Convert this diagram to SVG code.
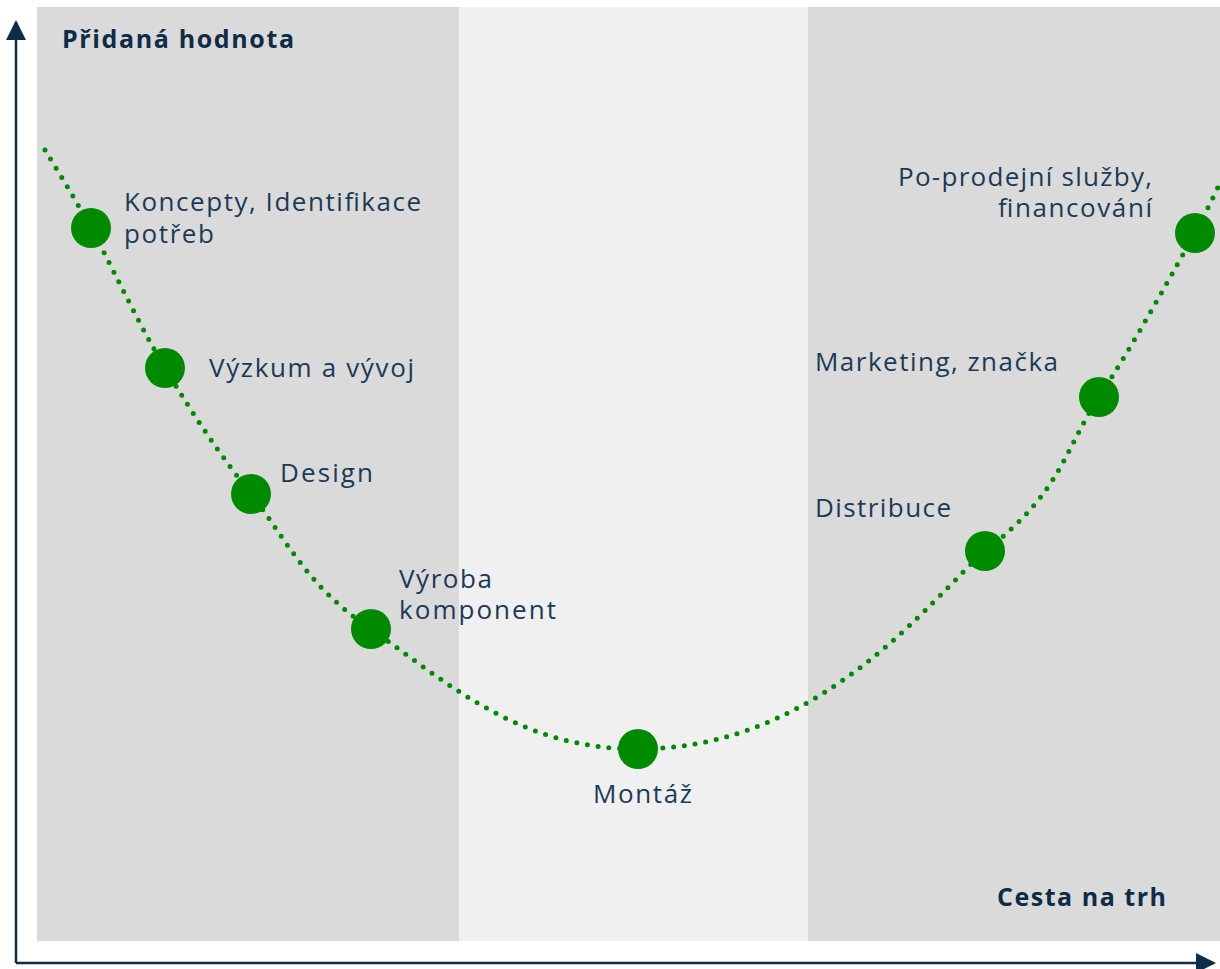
<svg xmlns="http://www.w3.org/2000/svg" width="1220" height="969" viewBox="0 0 1220 969">
<defs>
<style>
.lbl{font-family:"Open Sans","Liberation Sans",sans-serif;font-size:26px;fill:#1b3a57}
.ttl{font-family:"Open Sans","Liberation Sans",sans-serif;font-size:25px;font-weight:700;fill:#0e2c47}
.dot{fill:#008a00}
.axis{stroke:#0f2d4a;stroke-width:2.5;fill:none}
</style>
<marker id="ah" markerWidth="8" markerHeight="8" viewBox="0 0 10 10" refX="9" refY="5" orient="auto" markerUnits="strokeWidth">
<path d="M0,0 L10,5 L0,10 z" fill="#0f2d4a"/>
</marker>
</defs>
<rect width="1220" height="969" fill="#ffffff"/>
<g id="panels">
<rect x="37" y="7" width="422" height="934" fill="#dadada"/>
<rect x="459" y="7" width="349" height="934" fill="#f0f0f0"/>
<rect x="808" y="7" width="412" height="934" fill="#dadada"/>
</g>
<g id="axes">
<path class="axis" d="M16,963 L16,22" marker-end="url(#ah)"/>
<path class="axis" d="M16,963 L1214,963" marker-end="url(#ah)"/>
<text class="ttl" x="62" y="48" textLength="232">Přidaná hodnota</text>
<text class="ttl" x="997" y="906" textLength="169">Cesta na trh</text>
</g>
<g id="connectors">
<path d="M45,150 C52.7,163 71,191.7 91,228 C111,264.3 138.3,323.7 165,368 C191.7,412.3 216.7,450.5 251,494 C285.3,537.5 306.5,586.5 371,629 C450,685 520,749 638,749 C820,749 930,600 985,551 C1061.8,492.3 1064,450 1099,397 C1134,344 1174.8,268.7 1195,233 C1203,218 1214,196 1220,183" fill="none" stroke="#008a00" stroke-width="5" stroke-linecap="round" stroke-dasharray="0 10.8"/>
</g>
<g id="n1"><circle class="dot" cx="91" cy="228" r="20"/><text class="lbl"><tspan x="124" y="211" textLength="297">Koncepty, Identifikace</tspan><tspan x="124" y="243" textLength="90">potřeb</tspan></text></g>
<g id="n2"><circle class="dot" cx="165" cy="368" r="20"/><text class="lbl" x="209" y="377" textLength="205">Výzkum a vývoj</text></g>
<g id="n3"><circle class="dot" cx="251" cy="494" r="20"/><text class="lbl" x="280" y="482" textLength="93">Design</text></g>
<g id="n4"><circle class="dot" cx="371" cy="629" r="20"/><text class="lbl"><tspan x="399" y="588" textLength="93">Výroba</tspan><tspan x="399" y="619" textLength="157">komponent</tspan></text></g>
<g id="n5"><circle class="dot" cx="638" cy="749" r="20"/><text class="lbl" x="593" y="803" textLength="99">Montáž</text></g>
<g id="n6"><circle class="dot" cx="985" cy="551" r="20"/><text class="lbl" x="815" y="517" textLength="136">Distribuce</text></g>
<g id="n7"><circle class="dot" cx="1099" cy="397" r="20"/><text class="lbl" x="815" y="371" textLength="243">Marketing, značka</text></g>
<g id="n8"><circle class="dot" cx="1195" cy="233" r="20"/><text class="lbl"><tspan x="898" y="186" textLength="254">Po-prodejní služby,</tspan><tspan x="998" y="217" textLength="154">financování</tspan></text></g>
</svg>
